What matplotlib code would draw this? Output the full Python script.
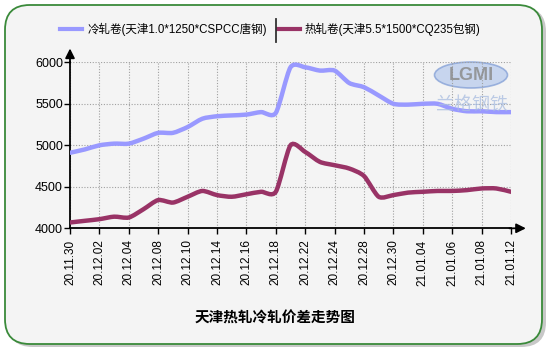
import numpy as np
import matplotlib
matplotlib.use('Agg')
import matplotlib.pyplot as plt
from matplotlib.path import Path
from matplotlib.patches import PathPatch, FancyBboxPatch, Ellipse
from matplotlib.lines import Line2D

plt.rcParams['font.family'] = ['Liberation Sans', 'Noto Sans CJK SC', 'DejaVu Sans']

# ---- data ----
DATES = ['20.11.30', '20.12.01', '20.12.02', '20.12.03', '20.12.04', '20.12.07',
         '20.12.08', '20.12.09', '20.12.10', '20.12.11', '20.12.14', '20.12.15',
         '20.12.16', '20.12.17', '20.12.18', '20.12.21', '20.12.22', '20.12.23',
         '20.12.24', '20.12.25', '20.12.28', '20.12.29', '20.12.30', '20.12.31',
         '21.01.04', '21.01.05', '21.01.06', '21.01.07', '21.01.08', '21.01.11',
         '21.01.12']
COLD = [4910, 4950, 5000, 5020, 5020, 5080, 5150, 5150, 5220, 5320, 5350, 5360,
        5370, 5400, 5390, 5940, 5940, 5900, 5900, 5750, 5700, 5600, 5500, 5490,
        5500, 5500, 5440, 5410, 5410, 5400, 5400]
HOT = [4070, 4090, 4110, 4140, 4130, 4230, 4340, 4310, 4380, 4450, 4400, 4380,
       4410, 4440, 4440, 5000, 4920, 4800, 4760, 4720, 4630, 4380, 4400, 4430,
       4440, 4450, 4450, 4460, 4480, 4480, 4440]
COLD_LABEL = '冷轧卷(天津1.0*1250*CSPCC唐钢)'
HOT_LABEL = '热轧卷(天津5.5*1500*CQ235包钢)'
TITLE = '天津热轧冷轧价差走势图'

C_COLD = '#9999ff'
C_HOT = '#993366'
TENSION = 0.75   # 1.0 = Catmull-Rom


def smooth_path(x, y, k=TENSION):
    """cardinal spline through the points, as bezier path"""
    x = np.asarray(x, float)
    y = np.asarray(y, float)
    verts = [(x[0], y[0])]
    codes = [Path.MOVETO]
    n = len(x)
    for i in range(n - 1):
        p0 = (x[max(i - 1, 0)], y[max(i - 1, 0)])
        p1 = (x[i], y[i])
        p2 = (x[i + 1], y[i + 1])
        p3 = (x[min(i + 2, n - 1)], y[min(i + 2, n - 1)])
        c1 = (p1[0] + k * (p2[0] - p0[0]) / 6, p1[1] + k * (p2[1] - p0[1]) / 6)
        c2 = (p2[0] - k * (p3[0] - p1[0]) / 6, p2[1] - k * (p3[1] - p1[1]) / 6)
        verts += [c1, c2, p2]
        codes += [Path.CURVE4] * 3
    return Path(verts, codes)


def px(xp, yp):
    """pixel position (from top-left) -> figure fraction"""
    return xp / 550, 1 - yp / 350


fig = plt.figure(figsize=(5.5, 3.5), dpi=100)
fig.patch.set_facecolor('white')

# rounded frame with shadow
shadow = FancyBboxPatch((8 / 550, 3 / 350), 538 / 550, 340 / 350,
                        boxstyle='round,pad=0,rounding_size=0.045',
                        transform=fig.transFigure, facecolor='#c8c8c8',
                        edgecolor='none', zorder=-3, mutation_aspect=550 / 350)
frame = FancyBboxPatch((5 / 550, 6 / 350), 537 / 550, 339 / 350,
                       boxstyle='round,pad=0,rounding_size=0.045',
                       transform=fig.transFigure, facecolor='#f4f4f4',
                       edgecolor='#3a8a3a', linewidth=1.3, zorder=-2,
                       mutation_aspect=550 / 350)
fig.patches.extend([shadow, frame])

# watermark
logo = Ellipse(px(471, 75), 73 / 550, 26 / 350,
               transform=fig.transFigure, facecolor='#b4c8ec',
               edgecolor='#7c9ad4', linewidth=1.2, alpha=0.7, zorder=-1)
fig.patches.append(logo)
fig.text(*px(471, 75), 'LGMI', ha='center', va='center',
         fontsize=13, fontweight='bold', color='#8c8c8c', alpha=0.85)
fig.text(*px(472, 106), '兰格钢铁', ha='center', va='center',
         fontsize=13, color='#a8bce0', alpha=0.75)

ax = fig.add_axes([70 / 550, 1 - 228.3 / 350, 441 / 550, 166 / 350])
ax.set_facecolor('none')

x = np.arange(len(DATES))
ax.add_patch(PathPatch(smooth_path(x, COLD), facecolor='none', edgecolor=C_COLD,
                       linewidth=3.2, capstyle='round', zorder=4))
ax.add_patch(PathPatch(smooth_path(x, HOT), facecolor='none', edgecolor=C_HOT,
                       linewidth=3.2, capstyle='round', zorder=5))

ax.set_xlim(0, len(DATES) - 1)
ax.set_ylim(4000, 6000)
ax.set_yticks([4000, 4500, 5000, 5500, 6000])
ax.set_xticks(x[::2])
ax.set_xticklabels(DATES[::2], rotation=90, fontsize=8.5)
ax.tick_params(axis='y', labelsize=9, length=4, width=1, pad=1)
ax.tick_params(axis='x', length=4, width=1, pad=4)
ax.grid(True, color='#a0a0a0', linestyle=(0, (1, 1.5)), linewidth=0.8)
for s in ['top', 'right']:
    ax.spines[s].set_visible(False)
for s in ['left', 'bottom']:
    ax.spines[s].set_linewidth(1.3)

# axis arrows
ax.annotate('', xy=(0, 1.1), xytext=(0, 0.98), xycoords='axes fraction',
            arrowprops=dict(arrowstyle='-|>', color='black', lw=1.3,
                            mutation_scale=14), annotation_clip=False)
ax.annotate('', xy=(1.04, 0), xytext=(0.99, 0), xycoords='axes fraction',
            arrowprops=dict(arrowstyle='-|>', color='black', lw=1.3,
                            mutation_scale=14), annotation_clip=False)

# legend drawn by hand (top strip)
for (x0, x1, xt), color, label in [((60, 82, 88), C_COLD, COLD_LABEL),
                                   ((278, 300, 305), C_HOT, HOT_LABEL)]:
    fig.add_artist(Line2D([x0 / 550, x1 / 550], [1 - 29 / 350] * 2,
                          transform=fig.transFigure, color=color, lw=3))
    fig.text(*px(xt, 29), label, ha='left', va='center', fontsize=8.3)

# thin separator between the legend entries
fig.add_artist(Line2D([275.5 / 550, 275.5 / 550], [1 - 42 / 350, 1 - 19 / 350],
                      transform=fig.transFigure, color='#333333', lw=1.3))

fig.text(0.5, 1 - 318 / 350, TITLE, ha='center', va='center',
         fontsize=10.5, fontweight='bold', family=['Noto Sans CJK SC'])

fig.savefig('out.png', dpi=100)
